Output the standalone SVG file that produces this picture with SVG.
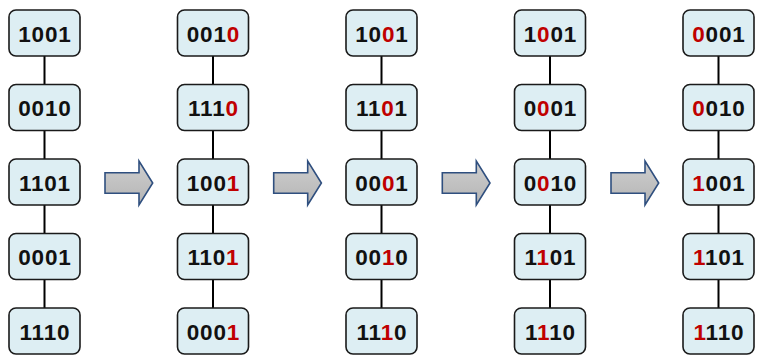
<svg xmlns="http://www.w3.org/2000/svg" width="760" height="364" viewBox="0 0 760 364">
<style>
.box{fill:#DDEEF3;stroke:#1a1a1a;stroke-width:1.6}
.t{font-family:"Liberation Sans",Arial,sans-serif;font-weight:bold;font-size:22.5px;letter-spacing:0.8px;fill:#111;text-anchor:middle}
.r{fill:#C00000}
.ln{stroke:#000;stroke-width:2;fill:none}
.arr{fill:url(#g);stroke:#2F4F7F;stroke-width:1.6;stroke-linejoin:miter}
</style>
<defs>
<linearGradient id="g" x1="0" y1="0" x2="0" y2="1">
<stop offset="0" stop-color="#CFCFCF"/>
<stop offset="1" stop-color="#B4B4B4"/>
</linearGradient>
</defs>
<g id="connectors">
<path class="ln" d="M44.5,56V84.5M44.5,130.5V159M44.5,205V233.5M44.5,279.5V308"/>
<path class="ln" d="M213,56V84.5M213,130.5V159M213,205V233.5M213,279.5V308"/>
<path class="ln" d="M381.5,56V84.5M381.5,130.5V159M381.5,205V233.5M381.5,279.5V308"/>
<path class="ln" d="M550,56V84.5M550,130.5V159M550,205V233.5M550,279.5V308"/>
<path class="ln" d="M718.5,56V84.5M718.5,130.5V159M718.5,205V233.5M718.5,279.5V308"/>
</g>
<g id="arrows">
<path class="arr" d="M105,172.7H139V161L152.7,183L139,205V193.3H105Z"/>
<path class="arr" d="M273.7,172.7H307.7V161L321.4,183L307.7,205V193.3H273.7Z"/>
<path class="arr" d="M442.3,172.7H476.3V161L490,183L476.3,205V193.3H442.3Z"/>
<path class="arr" d="M611,172.7H645V161L658.7,183L645,205V193.3H611Z"/>
</g>
<!-- column 1 -->
<g id="c1r1"><rect class="box" x="9" y="10" width="71" height="46" rx="7"/><text class="t" x="44.9" y="41.5">1001</text></g>
<g id="c1r2"><rect class="box" x="9" y="84.5" width="71" height="46" rx="7"/><text class="t" x="44.9" y="116">0010</text></g>
<g id="c1r3"><rect class="box" x="9" y="159" width="71" height="46" rx="7"/><text class="t" x="44.9" y="190.5">1101</text></g>
<g id="c1r4"><rect class="box" x="9" y="233.5" width="71" height="46" rx="7"/><text class="t" x="44.9" y="265">0001</text></g>
<g id="c1r5"><rect class="box" x="9" y="308" width="71" height="46" rx="7"/><text class="t" x="44.9" y="339.5">1110</text></g>
<!-- column 2 -->
<g id="c2r1"><rect class="box" x="177.5" y="10" width="71" height="46" rx="7"/><text class="t" x="213.4" y="41.5">001<tspan class="r">0</tspan></text></g>
<g id="c2r2"><rect class="box" x="177.5" y="84.5" width="71" height="46" rx="7"/><text class="t" x="213.4" y="116">111<tspan class="r">0</tspan></text></g>
<g id="c2r3"><rect class="box" x="177.5" y="159" width="71" height="46" rx="7"/><text class="t" x="213.4" y="190.5">100<tspan class="r">1</tspan></text></g>
<g id="c2r4"><rect class="box" x="177.5" y="233.5" width="71" height="46" rx="7"/><text class="t" x="213.4" y="265">110<tspan class="r">1</tspan></text></g>
<g id="c2r5"><rect class="box" x="177.5" y="308" width="71" height="46" rx="7"/><text class="t" x="213.4" y="339.5">000<tspan class="r">1</tspan></text></g>
<!-- column 3 -->
<g id="c3r1"><rect class="box" x="346" y="10" width="71" height="46" rx="7"/><text class="t" x="381.9" y="41.5">10<tspan class="r">0</tspan>1</text></g>
<g id="c3r2"><rect class="box" x="346" y="84.5" width="71" height="46" rx="7"/><text class="t" x="381.9" y="116">11<tspan class="r">0</tspan>1</text></g>
<g id="c3r3"><rect class="box" x="346" y="159" width="71" height="46" rx="7"/><text class="t" x="381.9" y="190.5">00<tspan class="r">0</tspan>1</text></g>
<g id="c3r4"><rect class="box" x="346" y="233.5" width="71" height="46" rx="7"/><text class="t" x="381.9" y="265">00<tspan class="r">1</tspan>0</text></g>
<g id="c3r5"><rect class="box" x="346" y="308" width="71" height="46" rx="7"/><text class="t" x="381.9" y="339.5">11<tspan class="r">1</tspan>0</text></g>
<!-- column 4 -->
<g id="c4r1"><rect class="box" x="514.5" y="10" width="71" height="46" rx="7"/><text class="t" x="550.4" y="41.5">1<tspan class="r">0</tspan>01</text></g>
<g id="c4r2"><rect class="box" x="514.5" y="84.5" width="71" height="46" rx="7"/><text class="t" x="550.4" y="116">0<tspan class="r">0</tspan>01</text></g>
<g id="c4r3"><rect class="box" x="514.5" y="159" width="71" height="46" rx="7"/><text class="t" x="550.4" y="190.5">0<tspan class="r">0</tspan>10</text></g>
<g id="c4r4"><rect class="box" x="514.5" y="233.5" width="71" height="46" rx="7"/><text class="t" x="550.4" y="265">1<tspan class="r">1</tspan>01</text></g>
<g id="c4r5"><rect class="box" x="514.5" y="308" width="71" height="46" rx="7"/><text class="t" x="550.4" y="339.5">1<tspan class="r">1</tspan>10</text></g>
<!-- column 5 -->
<g id="c5r1"><rect class="box" x="683" y="10" width="71" height="46" rx="7"/><text class="t" x="718.9" y="41.5"><tspan class="r">0</tspan>001</text></g>
<g id="c5r2"><rect class="box" x="683" y="84.5" width="71" height="46" rx="7"/><text class="t" x="718.9" y="116"><tspan class="r">0</tspan>010</text></g>
<g id="c5r3"><rect class="box" x="683" y="159" width="71" height="46" rx="7"/><text class="t" x="718.9" y="190.5"><tspan class="r">1</tspan>001</text></g>
<g id="c5r4"><rect class="box" x="683" y="233.5" width="71" height="46" rx="7"/><text class="t" x="718.9" y="265"><tspan class="r">1</tspan>101</text></g>
<g id="c5r5"><rect class="box" x="683" y="308" width="71" height="46" rx="7"/><text class="t" x="718.9" y="339.5"><tspan class="r">1</tspan>110</text></g>
</svg>
